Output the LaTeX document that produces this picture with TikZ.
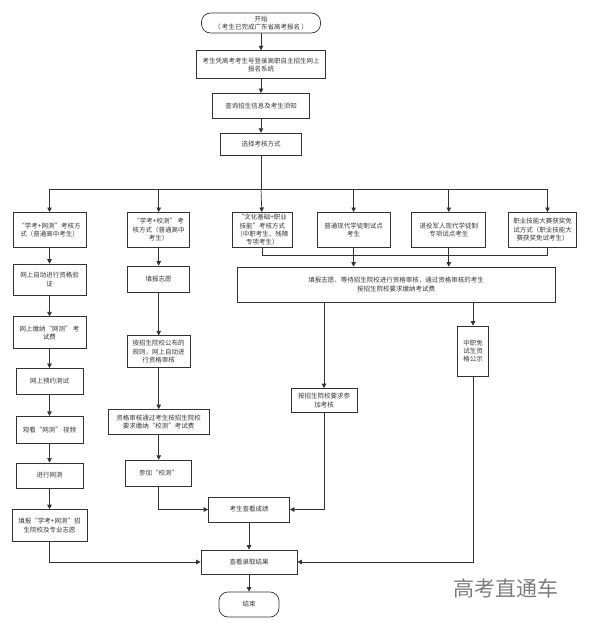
\documentclass[tikz,border=0pt]{standalone}
\usepackage{fontspec}
\newfontfamily\cjk{Noto Sans CJK SC}
\usepackage{xcolor}
\definecolor{fcLine}{RGB}{51,51,51}
\definecolor{fcText}{RGB}{55,55,55}
\definecolor{fcMark}{RGB}{125,125,125}
\usetikzlibrary{arrows.meta,positioning}

\begin{document}
\begin{tikzpicture}[x=1pt, y=1pt,
    fcbox/.style={draw=fcLine, fill=white, line width=0.7pt, align=center,
      inner sep=1.5pt, text=fcText, font=\cjk\fontsize{6.5}{8.3}\selectfont},
    fcterm/.style={fcbox, rounded corners=9pt},
    arrow/.style={-{Triangle[length=4.5pt,width=4.5pt]}, line width=0.7pt, draw=fcLine},
    link/.style={line width=0.7pt, draw=fcLine}
  ]
  \useasboundingbox (0,0) rectangle (589,-629);

  % top chain
  \node[fcterm, minimum width=119pt, minimum height=20pt] (start) at (261,-23)
    {开始\\（ 考生已完成广东省高考报名 ）};
  \node[fcbox, minimum width=129pt, minimum height=28pt, below=17pt of start] (login)
    {考生凭高考考生号登录高职自主招生网上\\报名系统};
  \node[fcbox, minimum width=97pt, minimum height=25pt, below=14pt of login] (query)
    {查询招生信息及考生须知};
  \node[fcbox, minimum width=81pt, minimum height=22pt, below=14pt of query] (choose)
    {选择考核方式};
  \coordinate (bus) at (261,-189);

  % exam modes
  \node[fcbox, minimum width=73pt, minimum height=35pt, anchor=north] (m1) at (49.5,-212)
    {“学考+网测”考核方\\式（普通高中考生）};
  \node[fcbox, minimum width=62pt, minimum height=35pt, right=41pt of m1] (m2)
    {“学考+校测” 考\\核方式（普通高中\\考生）};
  \node[fcbox, minimum width=60pt, minimum height=35pt, right=42pt of m2] (m3)
    {“文化基础+职业\\技能”考核方式\\（中职考生、残障\\专项考生）};
  \node[fcbox, minimum width=73pt, minimum height=35pt, right=24pt of m3] (m4)
    {普通现代学徒制试点\\考生};
  \node[fcbox, minimum width=74pt, minimum height=35pt, right=21pt of m4] (m5)
    {退役军人现代学徒制\\专项试点考生};
  \node[fcbox, minimum width=68pt, minimum height=35pt, right=22pt of m5] (m6)
    {职业技能大赛获奖免\\试方式（职业技能大\\赛获奖免试考生）};

  % left column
  \node[fcbox, minimum width=73pt, minimum height=31pt, below=16pt of m1] (l1)
    {网上自动进行资格验\\证};
  \node[fcbox, minimum width=73pt, minimum height=32pt, below=21pt of l1] (l2)
    {网上缴纳“网测” 考\\试费};
  \node[fcbox, minimum width=67pt, minimum height=26pt, below=19pt of l2] (l3)
    {网上预约测试};
  \node[fcbox, minimum width=67pt, minimum height=27pt, below=21pt of l3] (l4)
    {观看“网测” 视频};
  \node[fcbox, minimum width=67pt, minimum height=25pt, below=19pt of l4] (l5)
    {进行网测};
  \node[fcbox, minimum width=75pt, minimum height=32pt, below=21pt of l5] (l6)
    {填报“学考+网测”招\\生院校及专业志愿};

  % middle column
  \node[fcbox, minimum width=62pt, minimum height=26pt, below=18pt of m2] (c1)
    {填报志愿};
  \node[fcbox, minimum width=63pt, minimum height=32pt, below=43pt of c1] (c2)
    {按招生院校公布的\\规则，网上自动进\\行资格审核};
  \node[fcbox, minimum width=101pt, minimum height=25pt, below=41pt of c2] (c3)
    {资格审核通过考生按招生院校\\要求缴纳“校测”考试费};
  \node[fcbox, minimum width=66pt, minimum height=26pt, below=25pt of c3] (c4)
    {参加“校测”};

  % right part
  \node[fcbox, minimum width=318pt, minimum height=35pt] (apply) at (396,-284.5)
    {填报志愿、等待招生院校进行资格审核，通过资格审核的考生\\按招生院校要求缴纳考试费};
  \node[fcbox, minimum width=66pt, minimum height=24pt] (assess) at (324,-400.5)
    {按招生院校要求参\\加考核};
  \node[fcbox, minimum width=31pt, minimum height=50pt] (free) at (473,-351)
    {中职免\\试生资\\格公示};

  % results
  \node[fcbox, minimum width=81pt, minimum height=25pt] (score) at (249,-509.5)
    {考生查看成绩};
  \node[fcbox, minimum width=96pt, minimum height=24pt] (result) at (249,-562)
    {查看录取结果};
  \node[fcterm, minimum width=60pt, minimum height=25pt] (end) at (249,-604.5)
    {结束};

  \node[text=fcMark, font=\cjk\fontsize{21}{21}\selectfont] (mark) at (506,-588) {高考直通车};

  \draw[arrow] (start) -- (login);
  \draw[arrow] (login) -- (query);
  \draw[arrow] (query) -- (choose);
  \draw[link] (choose) -- (bus);
  \draw[arrow] (bus) -- (m3);
  \draw[arrow] (bus) -| (m1);
  \draw[arrow] (bus) -| (m2);
  \draw[arrow] (bus) -| (m4);
  \draw[arrow] (bus) -| (m5);
  \draw[arrow] (bus) -| ([xshift=5pt]m6.north);

  \draw[link] (m3) -- (m3.south |- 0,-255) -- ([xshift=5pt]m6.south |- 0,-255)
    -- ([xshift=5pt]m6.south);
  \draw[arrow] (m4) -- (m4 |- apply.north);
  \draw[arrow] (m5) -- (m5 |- apply.north);
  \draw[arrow] (apply.south -| assess) -- (assess);
  \draw[arrow] (apply.south -| free) -- (free);

  \draw[arrow] (m1) -- (l1);
  \draw[arrow] (l1) -- (l2);
  \draw[arrow] (l2) -- (l3);
  \draw[arrow] (l3) -- (l4);
  \draw[arrow] (l4) -- (l5);
  \draw[arrow] (l5) -- (l6);

  \draw[arrow] (m2) -- (c1);
  \draw[arrow] (c1) -- (c2);
  \draw[arrow] (c2) -- (c3);
  \draw[arrow] (c3) -- (c4);

  \draw[arrow] (c4) |- (score);
  \draw[arrow] (assess) |- (score);
  \draw[arrow] (l6) |- (result);
  \draw[arrow] (free) |- (result);
  \draw[arrow] (score) -- (result);
  \draw[arrow] (result) -- (end);
\end{tikzpicture}
\end{document}
